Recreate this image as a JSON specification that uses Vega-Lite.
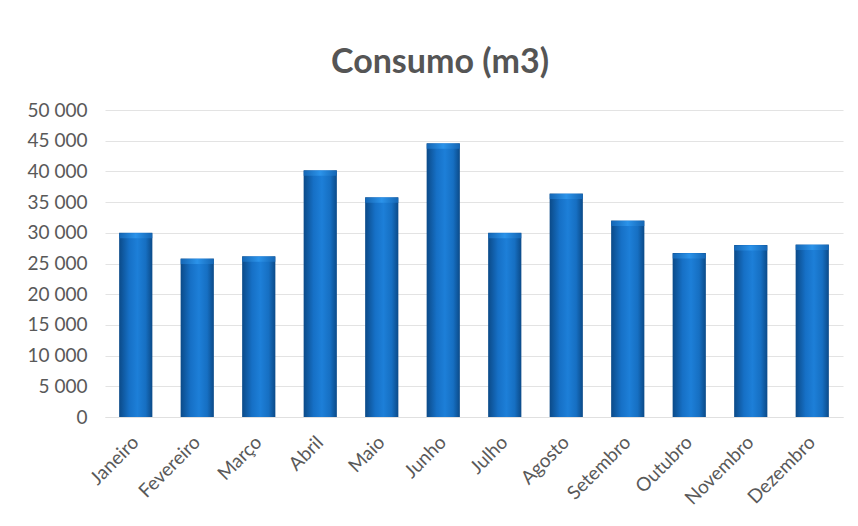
{
  "$schema": "https://vega.github.io/schema/vega-lite/v6.json",
  "autosize": "none",
  "width": 738,
  "height": 307,
  "padding": {"left": 105, "top": 110, "right": 15, "bottom": 109},
  "background": "#ffffff",
  "title": {
    "text": "Consumo (m3)",
    "fontSize": 34,
    "font": "Lato",
    "fontWeight": "bold",
    "color": "#555555",
    "anchor": "middle",
    "dx": -34,
    "offset": 21
  },
  "data": {
    "values": [
      {"mes": "Janeiro", "consumo": 30000},
      {"mes": "Fevereiro", "consumo": 25800},
      {"mes": "Março", "consumo": 26200},
      {"mes": "Abril", "consumo": 40200},
      {"mes": "Maio", "consumo": 35800},
      {"mes": "Junho", "consumo": 44600},
      {"mes": "Julho", "consumo": 30000},
      {"mes": "Agosto", "consumo": 36400},
      {"mes": "Setembro", "consumo": 32000},
      {"mes": "Outubro", "consumo": 26700},
      {"mes": "Novembro", "consumo": 28000},
      {"mes": "Dezembro", "consumo": 28100}
    ]
  },
  "encoding": {
    "x": {
      "field": "mes",
      "type": "nominal",
      "sort": null,
      "title": null,
      "scale": {"paddingInner": 0.46, "paddingOuter": 0.23},
      "axis": {
        "labelAngle": -45,
        "labelFontSize": 19,
        "labelFont": "Lato",
        "labelColor": "#595959",
        "labelAlign": "right",
        "labelBaseline": "middle",
        "ticks": false,
        "labelPadding": 22,
        "domainColor": "#e0e0e0"
      }
    },
    "y": {
      "field": "consumo",
      "type": "quantitative",
      "title": null,
      "scale": {"domain": [0, 50000]},
      "axis": {
        "values": [0, 5000, 10000, 15000, 20000, 25000, 30000, 35000, 40000, 45000, 50000],
        "labelExpr": "replace(format(datum.value, ','), ',', ' ')",
        "labelFontSize": 19,
        "labelFont": "Lato",
        "labelColor": "#595959",
        "ticks": false,
        "domain": false,
        "labelPadding": 18,
        "gridColor": "#e3e3e3"
      }
    }
  },
  "layer": [
    {
      "mark": {
        "type": "bar",
        "color": {
          "gradient": "linear",
          "x1": 0, "y1": 0, "x2": 1, "y2": 0,
          "stops": [
            {"offset": 0, "color": "#0b4a88"},
            {"offset": 0.3, "color": "#1670c6"},
            {"offset": 0.55, "color": "#1d7fd8"},
            {"offset": 0.8, "color": "#166fc2"},
            {"offset": 1, "color": "#0b4a88"}
          ]
        }
      }
    },
    {
      "mark": {
        "type": "tick",
        "size": 33,
        "thickness": 5,
        "yOffset": 3,
        "opacity": 1,
        "color": {
          "gradient": "linear",
          "x1": 0, "y1": 0, "x2": 1, "y2": 0,
          "stops": [
            {"offset": 0, "color": "#1566b4"},
            {"offset": 0.5, "color": "#2b93ea"},
            {"offset": 1, "color": "#1566b4"}
          ]
        }
      }
    }
  ],
  "config": {
    "view": {"stroke": null}
  }
}
